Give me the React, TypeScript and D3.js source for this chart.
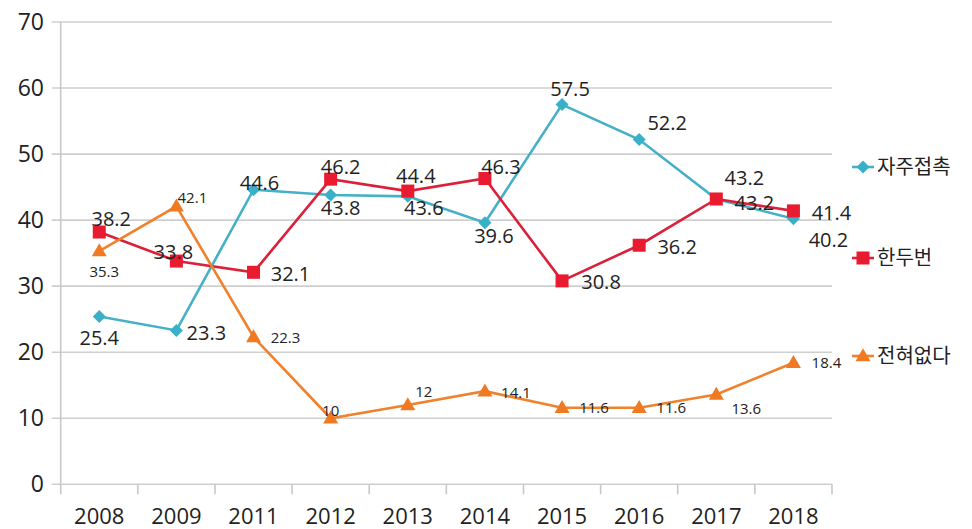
import React from "react";
import * as d3 from "d3";

const categories = ["2008", "2009", "2011", "2012", "2013", "2014", "2015", "2016", "2017", "2018"];
const seriesNames = ["자주접촉", "한두번", "전혀없다"];
const frequentValues = [25.4, 23.3, 44.6, 43.8, 43.6, 39.6, 57.5, 52.2, 43.2, 40.2];
const onceTwiceValues = [38.2, 33.8, 32.1, 46.2, 44.4, 46.3, 30.8, 36.2, 43.2, 41.4];
const neverValues = [35.3, 42.1, 22.3, 10, 12, 14.1, 11.6, 11.6, 13.6, 18.4];
const yTicks = [0, 10, 20, 30, 40, 50, 60, 70];

// label offsets (dx, dy) relative to each point — styling only
const frequentLabelOffsets = [[0, 21], [30, 3], [6, -7], [10, 13], [16, 12], [9, 13], [8, -16], [28, -17], [38, 4], [35, 21]];
const onceTwiceLabelOffsets = [[12, -13], [-3, -9], [37, 2], [10, -12], [8, -15], [16, -12], [39, 1], [38, 2], [28, -21], [38, 2]];
const neverLabelOffsets = [[5, 21], [16, -9], [32, 1], [0, -8], [16, -13], [31, 2], [32, 0], [32, 0], [30, 14], [33, 0]];

const W = 972, H = 529;
const left = 60.7, right = 832, top = 22, bottom = 484.3;
const colors = ["#45B0C8", "#DA2139", "#F0812D"];
const markerColors = ["#3AAFC8", "#E81B30", "#F07A22"];

function Marker({ kind, x, y, color }: { kind: number; x: number; y: number; color: string }) {
  if (kind === 0) {
    const s = 6.5;
    return <path d={`M${x},${y - s}L${x + s},${y}L${x},${y + s}L${x - s},${y}Z`} fill={color} />;
  }
  if (kind === 1) {
    const s = 6.5;
    return <rect x={x - s} y={y - s} width={2 * s} height={2 * s} fill={color} />;
  }
  const w = 7.5, h = 13;
  return <path d={`M${x},${y - h * 0.6}L${x + w},${y + h * 0.4}L${x - w},${y + h * 0.4}Z`} fill={color} />;
}

export default function App() {
  const x = d3.scaleBand<string>().domain(categories).range([left, right]);
  const y = d3.scaleLinear().domain([0, 70]).range([bottom, top]);
  const cx = (c: string) => (x(c) as number) + x.bandwidth() / 2;
  const line = d3.line<number>().x((_, i) => cx(categories[i])).y((v) => y(v));

  const series = [
    { values: frequentValues, offsets: frequentLabelOffsets, size: 20 },
    { values: onceTwiceValues, offsets: onceTwiceLabelOffsets, size: 20 },
    { values: neverValues, offsets: neverLabelOffsets, size: 15 },
  ];
  const legendY = [167, 258, 356];
  const font = "'Open Sans', 'Noto Sans', sans-serif";

  return (
    <svg width={W} height={H} style={{ position: "absolute", left: 0, top: 0, background: "#fff" }} fontFamily={font}>
      {yTicks.map((t) => (
        <g key={t}>
          <line x1={left - 9} x2={right} y1={y(t)} y2={y(t)} stroke="#cfcfcf" strokeWidth={1.6} />
          <text x={44} y={y(t)} dy="0.35em" textAnchor="end" fontSize={23} fill="#222">{t}</text>
        </g>
      ))}
      <line x1={left} x2={left} y1={top} y2={bottom + 10} stroke="#c8c8c8" strokeWidth={1.6} />
      {categories.map((c) => (
        <line key={"tk" + c} x1={(x(c) as number) + x.bandwidth()} x2={(x(c) as number) + x.bandwidth()} y1={bottom} y2={bottom + 10} stroke="#c8c8c8" strokeWidth={1.6} />
      ))}
      {categories.map((c) => (
        <text key={"xl" + c} x={cx(c)} y={516} dy="0.35em" textAnchor="middle" fontSize={22} fill="#222">{c}</text>
      ))}
      {series.map((s, si) => (
        <g key={"s" + si}>
          <path d={line(s.values) || ""} fill="none" stroke={colors[si]} strokeWidth={2.6} />
          {s.values.map((v, i) => (
            <Marker key={i} kind={si} x={cx(categories[i])} y={y(v)} color={markerColors[si]} />
          ))}
        </g>
      ))}
      {series.map((s, si) => (
        <g key={"l" + si}>
          {s.values.map((v, i) => (
            <text key={i} x={cx(categories[i]) + s.offsets[i][0]} y={y(v) + s.offsets[i][1]} dy="0.35em" textAnchor="middle" fontSize={s.size} fill="#222">{v}</text>
          ))}
        </g>
      ))}
      {seriesNames.map((n, si) => (
        <g key={"lg" + si}>
          <line x1={852} x2={874} y1={legendY[si]} y2={legendY[si]} stroke={colors[si]} strokeWidth={2.6} />
          <Marker kind={si} x={863} y={legendY[si]} color={markerColors[si]} />
          <text x={877} y={legendY[si]} dy="0.35em" fontSize={20} fill="#222" fontFamily="'Noto Sans CJK KR', sans-serif">{n}</text>
        </g>
      ))}
    </svg>
  );
}
